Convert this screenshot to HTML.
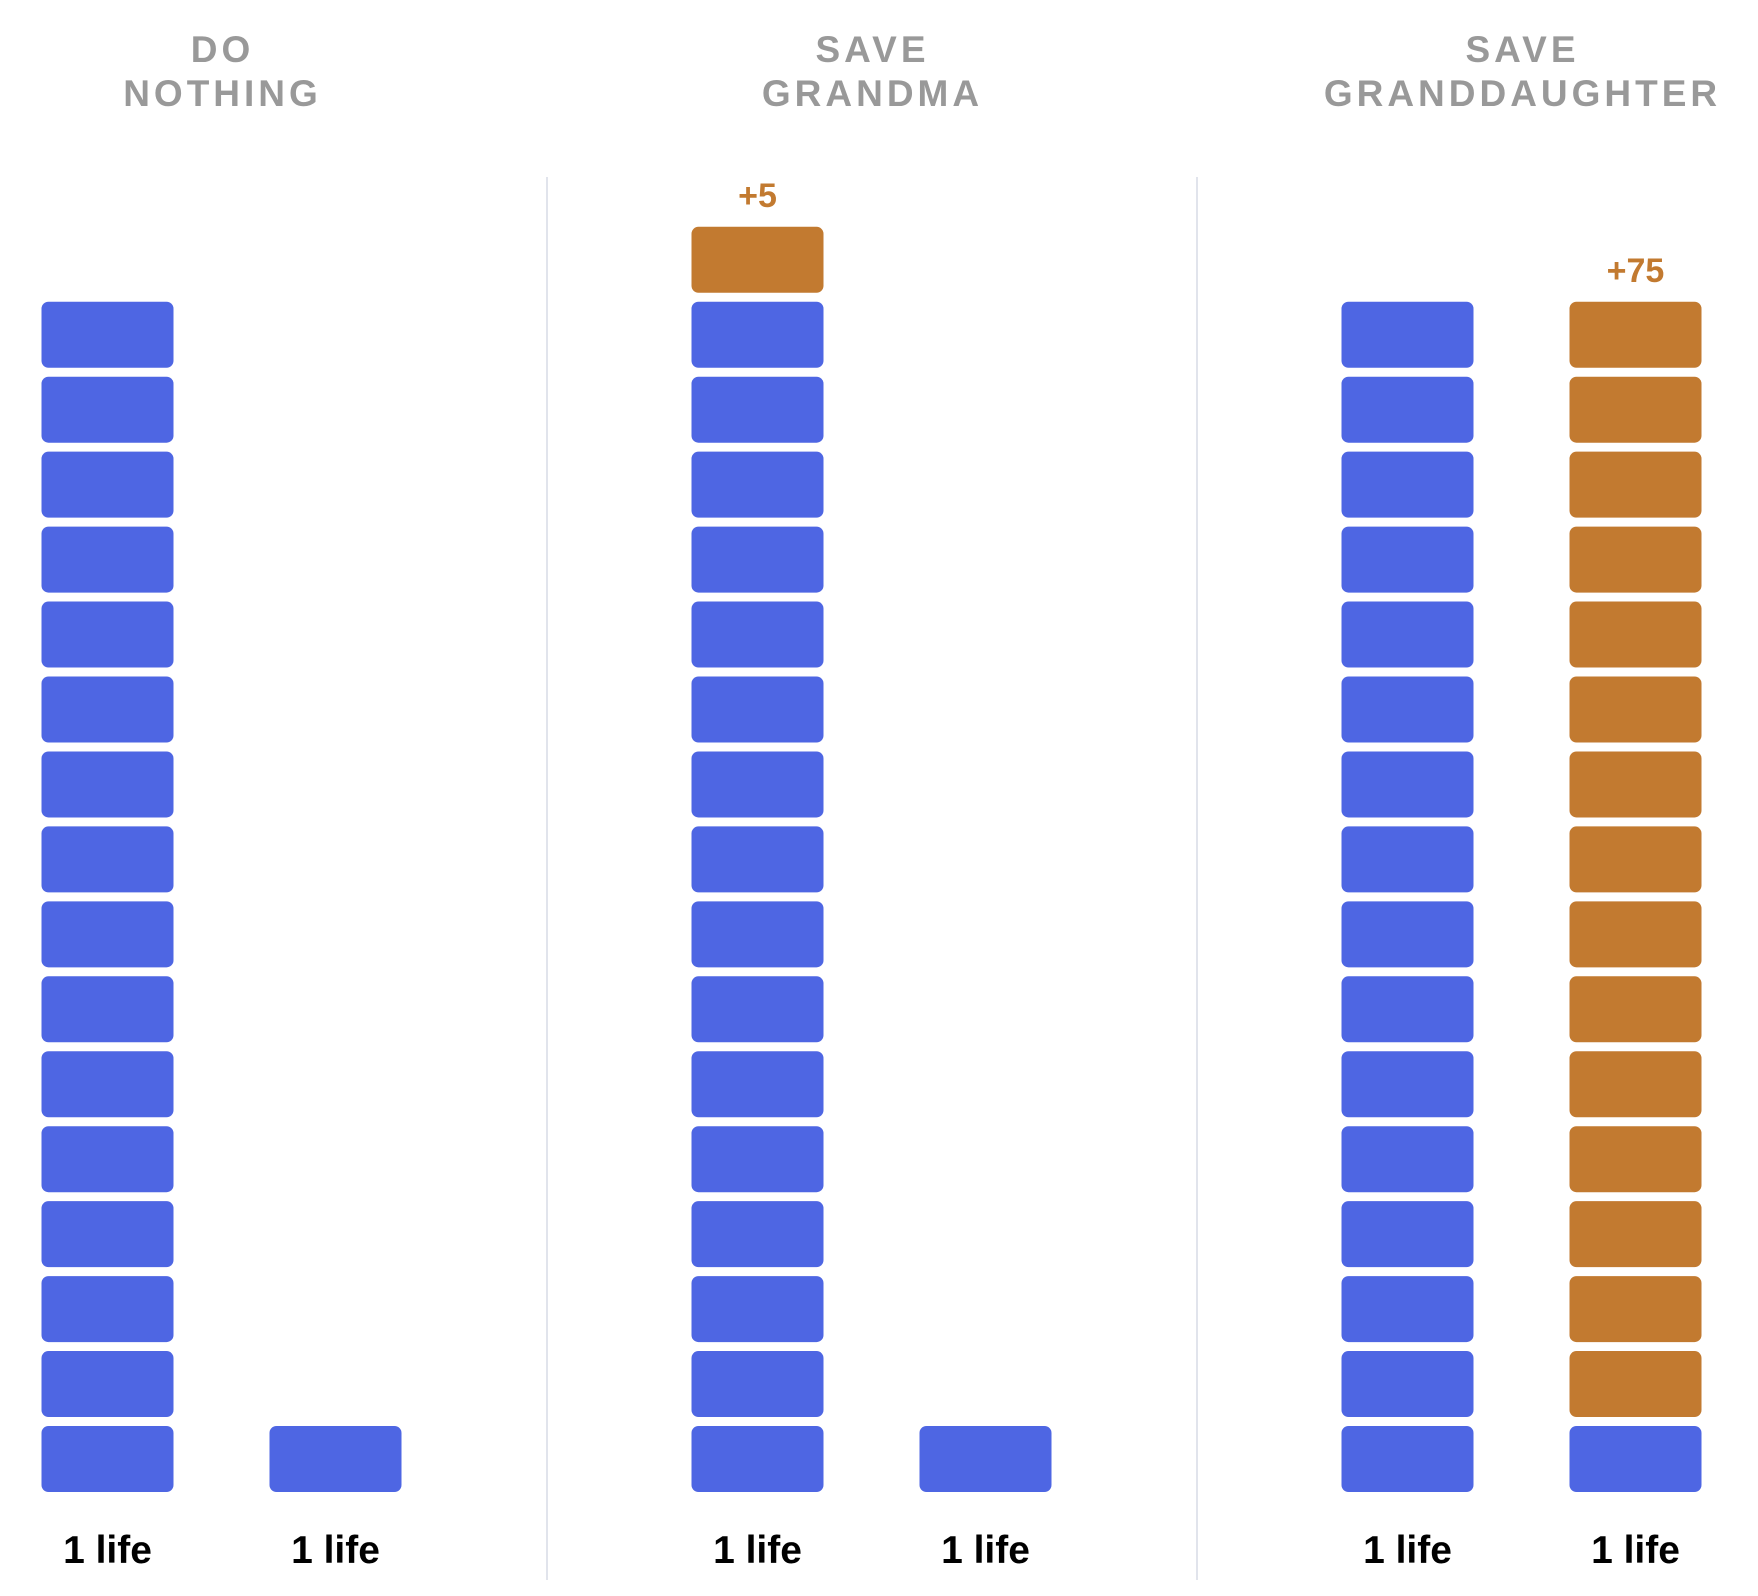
<!DOCTYPE html>
<html><head><meta charset="utf-8"><style>
html,body{margin:0;padding:0;background:#fff;}
svg{display:block;font-family:"Liberation Sans",sans-serif;}
</style></head><body>
<svg id="chart" width="1758" height="1596" viewBox="0 0 1758 1596" xmlns="http://www.w3.org/2000/svg"></svg>
<script>
// data
const groupTitles = [["DO","NOTHING"],["SAVE","GRANDMA"],["SAVE","GRANDDAUGHTER"]];
const baseBlocks = [[16,1],[16,1],[16,1]];      // blue blocks per column
const addedBlocks = [[0,0],[1,0],[0,15]];       // orange blocks per column
const addedLabels = [["",""],["+5",""],["","+75"]];
const colLabels = [["1 life","1 life"],["1 life","1 life"],["1 life","1 life"]];

const NS="http://www.w3.org/2000/svg";
const svg=document.getElementById('chart');
const groupX = g => 41.5 + g*650;
const colX = (g,c) => groupX(g) + c*228;
const BW=132, BH=66, STEP=74.95, BOTTOM=1426;
const yBlock = i => BOTTOM - i*STEP;
function mk(tag,attrs){const e=document.createElementNS(NS,tag);for(const k in attrs)e.setAttribute(k,attrs[k]);svg.appendChild(e);return e;}

[547,1197].forEach((x,i)=>{
  const l=mk('line',{x1:x,x2:x,y1:177,y2:1580,stroke:'#e1e4ec','stroke-width':2});
  
  
});

groupTitles.forEach((lines,g)=>{
  const cx=groupX(g)+114+66;
  lines.forEach((t,j)=>{
    const e=mk('text',{x:cx+1,y:62+j*44,'text-anchor':'middle','font-size':37,'font-weight':'bold',fill:'#999999','letter-spacing':4});
    e.textContent=t;
    
    
  });
  [0,1].forEach(c=>{
    const x=colX(g,c);
    const nb=baseBlocks[g][c], na=addedBlocks[g][c];
    for(let i=0;i<nb+na;i++){
      const r=mk('rect',{x:x,y:yBlock(i),width:BW,height:BH,rx:7,fill:i<nb?'#4e66e3':'#c27a30'});
      
      
    }
    if(addedLabels[g][c]){
      const t=mk('text',{x:x+BW/2,y:yBlock(nb+na-1)-20,'text-anchor':'middle','font-size':34,'font-weight':'bold',fill:'#c27a30'});
      t.textContent=addedLabels[g][c];
      
      
    }
    const lb=mk('text',{x:x+BW/2,y:1563,'text-anchor':'middle','font-size':39,'font-weight':'bold',fill:'#000'});
    lb.textContent=colLabels[g][c];
    
    
  });
});
</script>
</body></html>
